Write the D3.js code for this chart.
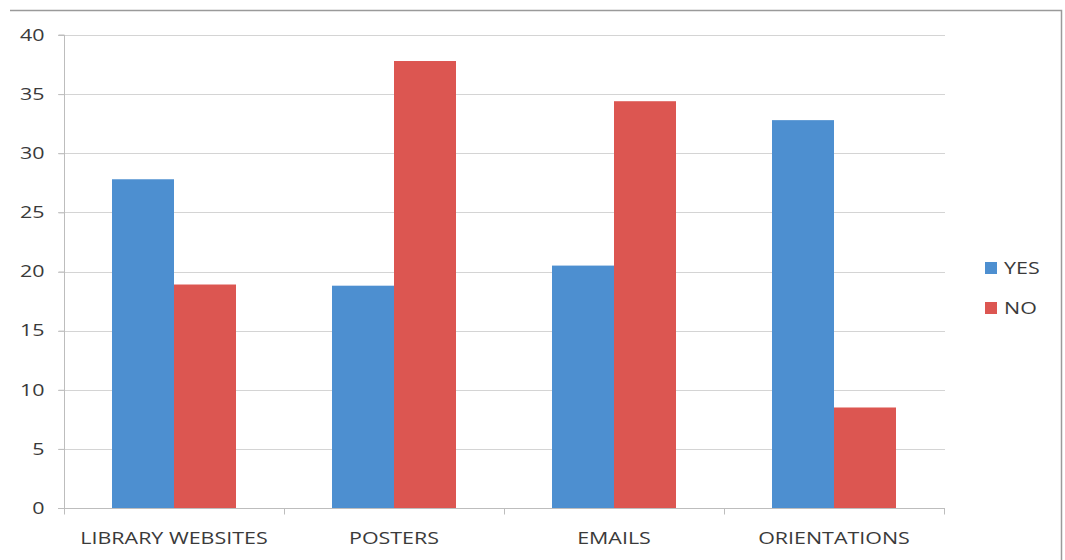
<!DOCTYPE html>
<html>
<head>
<meta charset="utf-8">
<script src="https://cdn.jsdelivr.net/npm/d3@7"></script>
<style>
  html, body { margin: 0; padding: 0; background: #fff; }
  svg { display: block; font-family: "Open Sans", "Noto Sans", sans-serif; }
</style>
</head>
<body>
<svg id="chart" width="1065" height="560"></svg>
<script>
// Awareness channels, answers counted per channel
const categories = ["LIBRARY WEBSITES", "POSTERS", "EMAILS", "ORIENTATIONS"];
const seriesNames = ["YES", "NO"];
const yesValues = [27.8, 18.8, 20.5, 32.8];
const noValues = [18.9, 37.8, 34.4, 8.5];
const yTicks = [0, 5, 10, 15, 20, 25, 30, 35, 40];
const seriesColors = ["#4d8fd0", "#dc5651"];

const seriesValues = [yesValues, noValues];
const rows = categories.map((c, i) => ({
  category: c,
  values: seriesNames.map((s, j) => ({ series: s, value: seriesValues[j][i] }))
}));

const svg = d3.select("#chart");
const plot = { left: 64, right: 944, top: 35, bottom: 508 };
const textColor = "#3a3a3a";
const fontSize = 16.5;
const stretch = 1.3; // wide lettering

const x = d3.scaleBand().domain(categories).range([plot.left, plot.right]).paddingInner(0).paddingOuter(0);
const inner = d3.scaleBand().domain(seriesNames).range([48, x.bandwidth() - 48]).padding(0);
const y = d3.scaleLinear().domain([0, 40]).range([plot.bottom, plot.top]);
const color = d3.scaleOrdinal().domain(seriesNames).range(seriesColors);

// Outer chart frame (top and right edges)
svg.append("path")
  .attr("d", `M10,10.5 H1061.5 V560`)
  .attr("fill", "none")
  .attr("stroke", "#9a9a9a")
  .attr("stroke-width", 1.5);

// Horizontal gridlines
svg.append("g")
  .selectAll("line")
  .data(yTicks.filter(t => t > 0))
  .join("line")
  .attr("x1", plot.left - 6)
  .attr("x2", plot.right + 1)
  .attr("y1", d => Math.round(y(d)) + 0.5)
  .attr("y2", d => Math.round(y(d)) + 0.5)
  .attr("stroke", "#d4d4d4")
  .attr("stroke-width", 1.2);

// Bars
svg.append("g")
  .selectAll("g")
  .data(rows)
  .join("g")
  .attr("transform", d => `translate(${x(d.category)},0)`)
  .selectAll("rect")
  .data(d => d.values)
  .join("rect")
  .attr("x", d => inner(d.series))
  .attr("width", inner.bandwidth())
  .attr("y", d => y(d.value))
  .attr("height", d => y(0) - y(d.value))
  .attr("fill", d => color(d.series));

// Y axis
const yAxis = d3.axisLeft(y).tickValues(yTicks).tickSize(6).tickPadding(14);
const yg = svg.append("g").attr("transform", `translate(${plot.left + 0.5},0)`).call(yAxis);
yg.select(".domain").attr("stroke", "#bdbdbd").attr("d", `M-6,${plot.top}H0V${plot.bottom}`);
yg.selectAll(".tick line").attr("stroke", "#bdbdbd");
yg.selectAll(".tick text")
  .attr("x", null)
  .attr("transform", `translate(-20,0) scale(${stretch},1)`)
  .attr("fill", textColor)
  .attr("font-size", fontSize)
  .attr("font-family", "Open Sans, sans-serif");

// X axis with category boundary ticks
const xg = svg.append("g").attr("transform", `translate(0,${plot.bottom + 0.5})`);
xg.append("line")
  .attr("x1", plot.left - 6).attr("x2", plot.right + 1)
  .attr("stroke", "#bdbdbd");
const boundaries = categories.map(c => x(c)).concat([x(categories[categories.length - 1]) + x.bandwidth()]);
xg.selectAll("line.bound")
  .data(boundaries)
  .join("line")
  .attr("class", "bound")
  .attr("x1", d => d + 0.5).attr("x2", d => d + 0.5)
  .attr("y1", 0).attr("y2", 6)
  .attr("stroke", "#bdbdbd");
xg.selectAll("text")
  .data(categories)
  .join("text")
  .attr("transform", d => `translate(${x(d) + x.bandwidth() / 2},35) scale(${stretch},1)`)
  .attr("text-anchor", "middle")
  .attr("fill", textColor)
  .attr("font-size", fontSize)
  .text(d => d);

// Legend
const legend = svg.append("g").attr("transform", "translate(985,0)");
const items = legend.selectAll("g")
  .data(seriesNames)
  .join("g")
  .attr("transform", (d, i) => `translate(0,${268 + i * 40})`);
items.append("rect")
  .attr("x", 0).attr("y", -6)
  .attr("width", 12).attr("height", 12)
  .attr("fill", d => color(d));
items.append("text")
  .attr("transform", `translate(19,0) scale(${stretch},1)`)
  .attr("dy", "0.36em")
  .attr("fill", textColor)
  .attr("font-size", fontSize)
  .text(d => d);
</script>
</body>
</html>
